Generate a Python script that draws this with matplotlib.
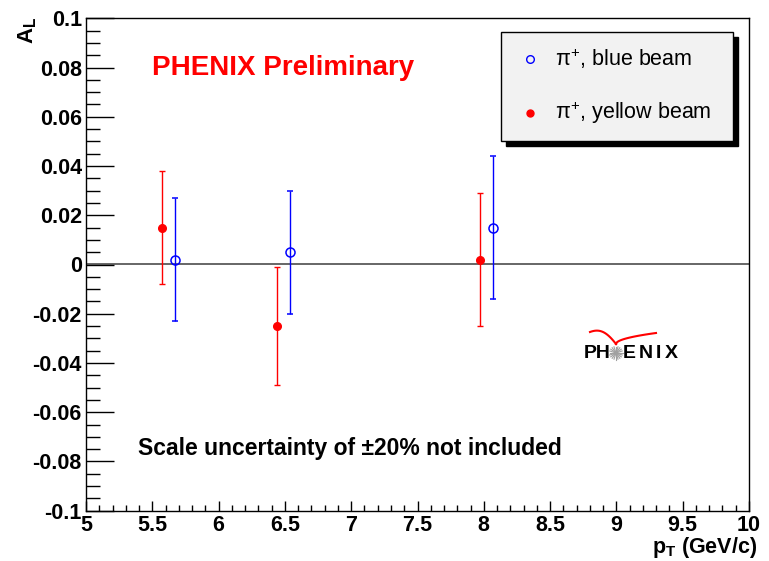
import numpy as np
import matplotlib.pyplot as plt
from matplotlib.ticker import MultipleLocator, FuncFormatter
from matplotlib.patches import Rectangle

plt.rcParams['font.family'] = ['Liberation Sans', 'DejaVu Sans']
plt.rcParams['mathtext.default'] = 'regular'

# pi+ blue beam
blue_pt = [5.67, 6.54, 8.07]
blue_al = [0.002, 0.005, 0.015]
blue_err = [0.025, 0.025, 0.029]

# pi+ yellow beam
yellow_pt = [5.57, 6.44, 7.97]
yellow_al = [0.015, -0.025, 0.002]
yellow_err = [0.023, 0.024, 0.027]

W, H = 769, 561
fig = plt.figure(figsize=(W / 100, H / 100), dpi=100)
ax = fig.add_axes([86 / W, 1 - 510.7 / H, (749 - 86) / W, (510.7 - 18.3) / H])

ax.set_xlim(5, 10)
ax.set_ylim(-0.1, 0.1)
ax.axhline(0, color='#666666', lw=1.4, zorder=1)

ax.errorbar(blue_pt, blue_al, yerr=blue_err, fmt='o', color='blue', mfc='none',
            mec='blue', ms=6.5, mew=1.1, elinewidth=1, capsize=2.5, capthick=1, zorder=3)
ax.errorbar(yellow_pt, yellow_al, yerr=yellow_err, fmt='o', color='red', mfc='red',
            mec='red', ms=5.5, elinewidth=1, capsize=2.5, capthick=1, zorder=3)

# ROOT style ticks
ax.xaxis.set_major_locator(MultipleLocator(0.5))
ax.xaxis.set_minor_locator(MultipleLocator(0.1))
ax.yaxis.set_major_locator(MultipleLocator(0.02))
ax.yaxis.set_minor_locator(MultipleLocator(0.005))
ax.tick_params(axis='both', which='both', direction='in', top=False, right=False)
ax.tick_params(axis='x', which='major', length=7, width=1, pad=3, labelsize=15.5)
ax.tick_params(axis='x', which='minor', length=4, width=1)
ax.tick_params(axis='y', which='major', length=20, width=1, pad=3, labelsize=15.5)
ax.tick_params(axis='y', which='minor', length=10, width=1)
ax.xaxis.set_major_formatter(FuncFormatter(lambda v, p: '%g' % v))
ax.yaxis.set_major_formatter(FuncFormatter(lambda v, p: '%g' % (round(v, 3) + 0.0)))
for lab in ax.get_xticklabels() + ax.get_yticklabels():
    lab.set_fontweight('bold')
for s in ax.spines.values():
    s.set_linewidth(1)

fig.text(757 / W, 0.5 / H, r'p$_{T}$ (GeV/c)', ha='right', va='bottom',
         fontsize=15.5, fontweight='bold')
fig.text(16 / W, 1 - 17 / H, r'A$_{L}$', ha='left', va='top', rotation=90,
         fontsize=16, fontweight='bold')

ax.text(0.1, 0.9, 'PHENIX Preliminary', transform=ax.transAxes, color='red',
        fontsize=20, fontweight='bold', va='center', ha='left')
ax.text(0.078, 0.127, 'Scale uncertainty of \u00b120% not included',
        transform=ax.transAxes, fontsize=16.5, fontweight='bold', va='center', ha='left')

# legend box with drop shadow
lx0, ly0, lw, lh = 500.5, 31.5, 232, 109
fig.patches.append(Rectangle((lx0 + 5, H - ly0 - lh - 5), lw, lh, transform=None,
                             facecolor='black', edgecolor='black', zorder=5))
fig.patches.append(Rectangle((lx0, H - ly0 - lh), lw, lh, transform=None,
                             facecolor='#f2f2f2', edgecolor='black', lw=1, zorder=6))
fig.lines.append(plt.Line2D([530], [H - 59], transform=None, marker='o', mfc='none',
                            mec='blue', ms=5.5, mew=1, zorder=7))
fig.lines.append(plt.Line2D([530], [H - 113], transform=None, marker='o', mfc='red',
                            mec='red', ms=5, zorder=7))
fig.text(555 / W, 1 - 59 / H, 'π$^{+}$, blue beam', fontsize=15.5, va='center',
         zorder=8)
fig.text(555 / W, 1 - 113 / H, 'π$^{+}$, yellow beam', fontsize=15.5, va='center',
         zorder=8)

# PHENIX logo: letters, grey star and red wings
logo_letters = ['PH', 'E', 'N', 'I', 'X']
logo_x = [584, 623, 638.5, 656, 665]
for ch, lx in zip(logo_letters, logo_x):
    fig.text(lx / W, 1 - 354 / H, ch, fontsize=14, fontweight='bold', ha='left',
             va='center', zorder=4)
cx, cy = 616, H - 353
for a in np.linspace(0, np.pi, 10, endpoint=False):
    dx, dy = 6.5 * np.cos(a), 6.5 * np.sin(a)
    fig.lines.append(plt.Line2D([cx - dx, cx + dx], [cy - dy, cy + dy], transform=None,
                                color='#a0a0a0', lw=0.8))
t = np.linspace(0, 1, 50)
wing_l_x = 590 + 26 * t
wing_l_y = H - (332 - 3 * np.sin(np.pi * t) + 12 * t ** 2)
wing_r_x = 616 + 40 * t
wing_r_y = H - (344 - 11 * np.sqrt(t))
fig.lines.append(plt.Line2D(wing_l_x, wing_l_y, transform=None, color='red', lw=1.5))
fig.lines.append(plt.Line2D(wing_r_x, wing_r_y, transform=None, color='red', lw=1.5))

fig.savefig('out.png', dpi=100)
